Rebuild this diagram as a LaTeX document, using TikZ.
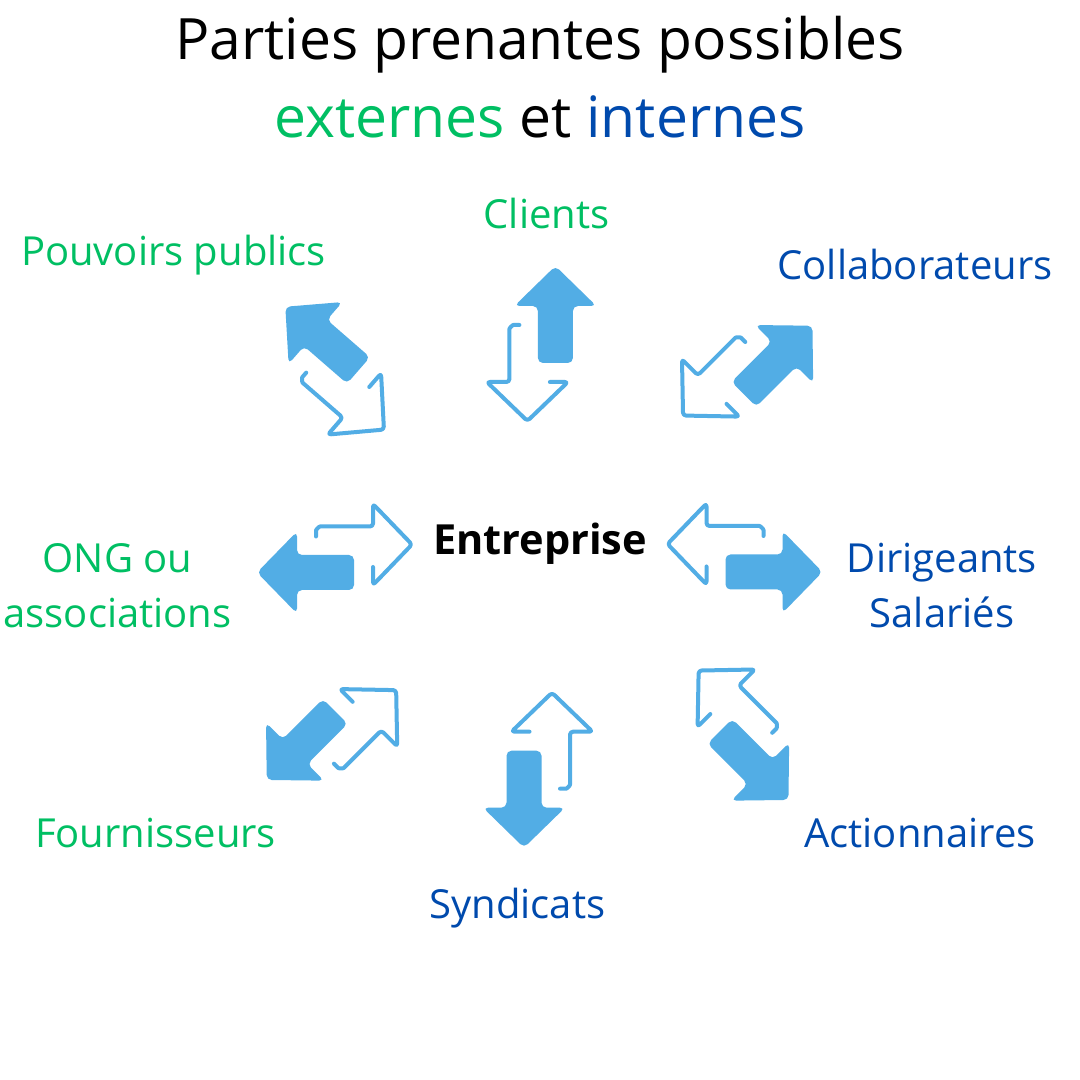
\documentclass[tikz,border=0pt]{standalone}
\usepackage{fontspec}
\setmainfont{Open Sans}
\usepackage{xcolor}
\usetikzlibrary{positioning}

\definecolor{extgreen}{HTML}{00BF63}
\definecolor{intblue}{HTML}{004AAD}
\definecolor{arrowblue}{HTML}{52ADE5}

\begin{document}
\begin{tikzpicture}[x=1pt,y=1pt,
  exchange/.pic={
    \fill[arrowblue,rounded corners=5] (-3.5,-19) -- (-3.5,38) -- (-27,38) -- (14,78) -- (55,38) -- (31.5,38) -- (31.5,-19) -- cycle;
    \draw[arrowblue,line width=4pt,line cap=round,line join=round,rounded corners=3]
      (-24,19) -- (-25,19) arc[start angle=90,end angle=180,radius=7] -- (-32,-38) -- (-54.5,-38) -- (-14,-77) -- (26.5,-38) -- (8.5,-38);
  }]
  \tikzstyle{title}=[font=\fontsize{57}{60}\selectfont,anchor=base,inner sep=0pt]
  \tikzstyle{party}=[font=\fontsize{40}{55}\selectfont,align=center,anchor=base,inner sep=0pt]
  \tikzstyle{external}=[party,text=extgreen]
  \tikzstyle{internal}=[party,text=intblue]

  \fill[white] (0,0) rectangle (1080,1080);
  \useasboundingbox (0,0) rectangle (1080,1080);

  % Title
  \node [title] (title) at (540,1020) {Parties prenantes possibles};
  \node [title] (subtitle) at (540,942) {\textcolor{extgreen}{externes} et \textcolor{intblue}{internes}};

  % Centre
  \node [font=\bfseries\fontsize{41.5}{45}\selectfont,anchor=base,inner sep=0pt] (entreprise) at (540,525) {Entreprise};

  % Arrows
  \pic (aclients) at (541.4,736) {exchange};
  \pic (acollab) [rotate=-45] at (747.4,709) {exchange};
  \pic (adirig) [rotate=-90] at (744.5,522) {exchange};
  \pic (aaction) [rotate=-135] at (743.2,345.1) {exchange};
  \pic (asynd) [rotate=180] at (538,310.3) {exchange};
  \pic (afourn) [rotate=135] at (331.8,345.3) {exchange};
  \pic (aong) [xscale=-1,rotate=-90] at (335,521.5) {exchange};
  \pic (apouv) [rotate=49] at (335,711.5) {exchange};

  % Parties
  \node [external] (clients) at (546.5,851) {Clients};
  \node [external] (pouvoirs) at (173.5,814) {Pouvoirs publics};
  \node [internal] (collab) at (915,800) {Collaborateurs};
  \node [external] (ong) at (117.5,452) {ONG ou\\associations};
  \node [internal] (dirig) at (942,452) {Dirigeants\\Salariés};
  \node [external] (fourn) at (155.5,232) {Fournisseurs};
  \node [internal] (synd) at (517.5,161) {Syndicats};
  \node [internal] (action) at (920,232) {Actionnaires};
\end{tikzpicture}
\end{document}
